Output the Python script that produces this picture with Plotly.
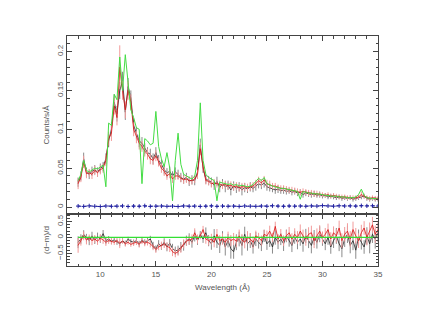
import plotly.graph_objects as go
from plotly.subplots import make_subplots

# wavelength bins (Angstrom), 0.25 A bins from 8 to 35
wave = [8.0 + 0.25 * i for i in range(109)]

# observed spectrum, instrument 1 (black)
dat_k = [0.032, 0.040, 0.062, 0.045, 0.042, 0.046, 0.048, 0.045, 0.050, 0.052,
         0.062, 0.085, 0.100, 0.135, 0.120, 0.150, 0.162, 0.122, 0.155, 0.140,
         0.105, 0.095, 0.085, 0.082, 0.075, 0.070, 0.068, 0.062, 0.070, 0.060,
         0.055, 0.048, 0.044, 0.046, 0.040, 0.045, 0.042, 0.038, 0.036, 0.038,
         0.033, 0.035, 0.034, 0.045, 0.080, 0.050, 0.036, 0.034, 0.032, 0.028,
         0.033, 0.025, 0.030, 0.026, 0.028, 0.022, 0.027, 0.024, 0.026, 0.022,
         0.025, 0.023, 0.026, 0.024, 0.027, 0.030, 0.028, 0.031, 0.026, 0.025,
         0.024, 0.022, 0.023, 0.021, 0.022, 0.020, 0.021, 0.019, 0.020, 0.018,
         0.019, 0.016, 0.018, 0.017, 0.016, 0.017, 0.015, 0.016, 0.014, 0.015,
         0.013, 0.014, 0.013, 0.012, 0.013, 0.011, 0.012, 0.011, 0.012, 0.010,
         0.011, 0.012, 0.013, 0.014, 0.011, 0.010, 0.011, 0.010, 0.010]
err_k = [0.006, 0.006, 0.008, 0.006, 0.006, 0.006, 0.006, 0.006, 0.006, 0.006,
         0.007, 0.008, 0.009, 0.010, 0.010, 0.011, 0.012, 0.010, 0.011, 0.010,
         0.009, 0.008, 0.008, 0.008, 0.007, 0.007, 0.007, 0.007, 0.007, 0.007,
         0.006, 0.006, 0.006, 0.006, 0.006, 0.006, 0.006, 0.006, 0.006, 0.006,
         0.006, 0.006, 0.006, 0.006, 0.008, 0.006, 0.006, 0.006, 0.006, 0.006,
         0.006, 0.006, 0.006, 0.007, 0.006, 0.007, 0.006, 0.006, 0.006, 0.007,
         0.006, 0.005, 0.006, 0.005, 0.006, 0.006, 0.005, 0.006, 0.005, 0.005,
         0.005, 0.005, 0.005, 0.004, 0.005, 0.004, 0.004, 0.004, 0.004, 0.004,
         0.004, 0.004, 0.004, 0.004, 0.004, 0.004, 0.003, 0.004, 0.003, 0.003,
         0.003, 0.003, 0.003, 0.003, 0.003, 0.003, 0.003, 0.003, 0.003, 0.003,
         0.003, 0.003, 0.003, 0.003, 0.003, 0.003, 0.003, 0.003, 0.003]

# observed spectrum, instrument 2 (red)
dat_r = [0.030, 0.038, 0.058, 0.043, 0.044, 0.042, 0.047, 0.044, 0.048, 0.050,
         0.060, 0.088, 0.095, 0.130, 0.115, 0.180, 0.150, 0.125, 0.150, 0.135,
         0.100, 0.090, 0.082, 0.078, 0.072, 0.068, 0.062, 0.060, 0.066, 0.058,
         0.050, 0.046, 0.040, 0.043, 0.036, 0.040, 0.040, 0.037, 0.035, 0.036,
         0.034, 0.034, 0.036, 0.042, 0.075, 0.052, 0.034, 0.033, 0.030, 0.031,
         0.030, 0.029, 0.028, 0.029, 0.027, 0.028, 0.026, 0.027, 0.025, 0.026,
         0.026, 0.025, 0.026, 0.027, 0.030, 0.034, 0.031, 0.035, 0.030, 0.029,
         0.027, 0.027, 0.025, 0.024, 0.024, 0.023, 0.022, 0.022, 0.021, 0.020,
         0.019, 0.020, 0.019, 0.018, 0.018, 0.017, 0.017, 0.016, 0.016, 0.015,
         0.016, 0.014, 0.015, 0.014, 0.013, 0.013, 0.013, 0.012, 0.012, 0.012,
         0.012, 0.013, 0.016, 0.014, 0.012, 0.011, 0.012, 0.011, 0.011]
err_r = [0.007, 0.006, 0.008, 0.006, 0.005, 0.006, 0.006, 0.005, 0.006, 0.006,
         0.007, 0.009, 0.010, 0.011, 0.010, 0.028, 0.012, 0.011, 0.012, 0.010,
         0.009, 0.008, 0.008, 0.007, 0.007, 0.007, 0.007, 0.006, 0.007, 0.006,
         0.006, 0.006, 0.005, 0.006, 0.005, 0.005, 0.005, 0.005, 0.005, 0.005,
         0.005, 0.005, 0.005, 0.006, 0.008, 0.006, 0.005, 0.005, 0.005, 0.005,
         0.005, 0.005, 0.005, 0.005, 0.005, 0.005, 0.005, 0.005, 0.005, 0.005,
         0.005, 0.005, 0.005, 0.005, 0.005, 0.005, 0.005, 0.005, 0.005, 0.005,
         0.004, 0.004, 0.004, 0.004, 0.004, 0.004, 0.004, 0.004, 0.004, 0.004,
         0.004, 0.004, 0.004, 0.004, 0.004, 0.004, 0.004, 0.003, 0.003, 0.003,
         0.003, 0.003, 0.003, 0.003, 0.003, 0.003, 0.003, 0.003, 0.003, 0.003,
         0.003, 0.003, 0.004, 0.003, 0.003, 0.003, 0.003, 0.003, 0.003]

# folded model (green)
model = [0.034, 0.042, 0.060, 0.047, 0.045, 0.048, 0.050, 0.049, 0.052, 0.054,
         0.026, 0.108, 0.105, 0.145, 0.138, 0.193, 0.150, 0.196, 0.160, 0.125,
         0.115, 0.102, 0.100, 0.030, 0.088, 0.085, 0.080, 0.082, 0.123, 0.078,
         0.062, 0.052, 0.070, 0.050, 0.008, 0.060, 0.095, 0.055, 0.042, 0.040,
         0.038, 0.036, 0.040, 0.060, 0.134, 0.060, 0.042, 0.038, 0.036, 0.034,
         0.008, 0.032, 0.031, 0.030, 0.029, 0.030, 0.028, 0.029, 0.027, 0.028,
         0.027, 0.026, 0.027, 0.029, 0.033, 0.037, 0.034, 0.038, 0.030, 0.028,
         0.027, 0.026, 0.025, 0.024, 0.024, 0.023, 0.022, 0.022, 0.021, 0.020,
         0.010, 0.020, 0.019, 0.018, 0.018, 0.017, 0.017, 0.016, 0.016, 0.015,
         0.015, 0.014, 0.014, 0.014, 0.013, 0.013, 0.013, 0.012, 0.012, 0.012,
         0.013, 0.016, 0.023, 0.015, 0.012, 0.011, 0.011, 0.011, 0.010]

# background (blue), 0.5 A bins
bkg = [0.0012, 0.0008, 0.0015, 0.0010, 0.0006, 0.0013, 0.0009, 0.0011, 0.0014, 0.0007,
       0.0012, 0.0010, 0.0016, 0.0008, 0.0011, 0.0013, 0.0009, 0.0012, 0.0007, 0.0014,
       0.0010, 0.0012, 0.0008, 0.0011, 0.0015, 0.0009, 0.0013, 0.0010, 0.0012, 0.0008,
       0.0014, 0.0011, 0.0009, 0.0013, 0.0010, 0.0016, 0.0012, 0.0009, 0.0014, 0.0011,
       0.0013, 0.0010, 0.0015, 0.0012, 0.0018, 0.0014, 0.0011, 0.0016, 0.0013, 0.0015,
       0.0012, 0.0017, 0.0014, 0.0016, 0.0013]

# residuals (d-m)/d
res_k = [-0.15, -0.05, 0.10, -0.02, -0.10, 0.05, -0.08, 0.02, -0.05, 0.12,
         -0.10, -0.05, -0.12, -0.08, -0.15, -0.20, -0.10, -0.18, -0.05, -0.12,
         -0.15, -0.10, -0.20, -0.08, -0.15, -0.10, -0.05, -0.25, -0.35, -0.20,
         -0.28, -0.15, -0.30, -0.18, -0.35, -0.42, -0.40, -0.30, -0.25, -0.10,
         -0.05, -0.15, 0.05, -0.10, 0.10, -0.05, 0.15, -0.10, -0.20, 0.05,
         -0.15, -0.25, 0.00, -0.30, -0.10, -0.35, -0.45, -0.15, -0.05, -0.25,
         0.10, -0.20, -0.10, -0.30, -0.05, -0.15, -0.25, 0.05, -0.20, -0.10,
         -0.30, 0.00, -0.15, -0.05, -0.20, 0.05, -0.10, -0.25, 0.00, -0.15,
         -0.05, -0.20, 0.05, -0.10, -0.25, 0.00, -0.15, 0.10, -0.05, -0.20,
         0.00, -0.30, -0.10, 0.05, -0.20, -0.35, -0.05, 0.10, -0.25, -0.10,
         -0.40, 0.00, -0.15, -0.30, 0.05, -0.20, 0.10, -0.05, 0.15]
res_r = [-0.25, -0.10, 0.05, -0.08, -0.02, -0.10, -0.05, -0.12, -0.02, -0.08,
         -0.15, -0.10, -0.12, -0.15, -0.10, -0.18, -0.12, -0.20, -0.15, -0.22,
         -0.18, -0.15, -0.22, -0.12, -0.18, -0.15, -0.20, -0.30, -0.38, -0.30,
         -0.25, -0.20, -0.28, -0.32, -0.45, -0.50, -0.45, -0.35, -0.20, -0.12,
         -0.08, -0.05, 0.15, -0.05, 0.05, 0.25, -0.05, -0.10, -0.05, -0.15,
         0.10, -0.10, -0.05, -0.15, 0.00, -0.10, -0.05, -0.12, 0.05, -0.08,
         -0.15, 0.00, -0.05, -0.15, 0.05, 0.00, -0.10, 0.10, 0.05, 0.20,
         0.00, 0.35, -0.05, 0.10, -0.10, 0.05, 0.15, -0.05, 0.10, 0.00,
         0.20, 0.05, -0.05, 0.10, 0.15, -0.10, 0.05, 0.20, 0.00, 0.10,
         0.25, -0.05, 0.15, 0.05, 0.30, -0.10, 0.10, 0.20, -0.05, 0.25,
         0.05, -0.10, 0.15, 0.30, 0.00, 0.20, 0.40, 0.10, 0.25]
res_zero = [0.0, 0.0]

y_title_top = "Counts/s/Å"
y_title_bot = "(d−m)/d"
x_title = "Wavelength (Å)"

rerr_k = [e / d for e, d in zip(err_k, dat_k)]
rerr_r = [e / d for e, d in zip(err_r, dat_r)]
bkg_wave = wave[::2]

fig = make_subplots(rows=2, cols=1, shared_xaxes=True, vertical_spacing=0,
                    row_heights=[0.774, 0.226])

def data_trace(x, y, err, mcol, ecol):
    return go.Scatter(x=x, y=y, mode="lines",
                      line=dict(color=mcol, width=0.8),
                      error_y=dict(type="data", array=err, color=ecol, thickness=1, width=0),
                      showlegend=False, hoverinfo="skip")

fig.add_trace(data_trace(wave, dat_k, err_k, "#222222", "#8a8a8a"), row=1, col=1)
fig.add_trace(data_trace(wave, dat_r, err_r, "#d81010", "#f29a9a"), row=1, col=1)
fig.add_trace(go.Scatter(x=wave, y=model, mode="lines",
                         line=dict(color="#44dd44", width=1), showlegend=False), row=1, col=1)
fig.add_trace(go.Scatter(x=bkg_wave, y=bkg, mode="lines+markers",
                         line=dict(color="#2020a0", width=1, dash="dot"),
                         marker=dict(symbol="cross-thin", size=3, color="#2020a0",
                                     line=dict(width=1, color="#2020a0")),
                         showlegend=False), row=1, col=1)

fig.add_trace(data_trace(wave, res_k, rerr_k, "#222222", "#8a8a8a"), row=2, col=1)
fig.add_trace(data_trace(wave, res_r, rerr_r, "#d81010", "#f29a9a"), row=2, col=1)
fig.add_trace(go.Scatter(x=[wave[0], wave[-1]], y=res_zero, mode="lines",
                         line=dict(color="#33e033", width=1.3), showlegend=False), row=2, col=1)

axcol = "#444444"
font = dict(family="Liberation Sans, Arial, sans-serif", size=8, color="#555555")
common = dict(showline=True, linecolor=axcol, linewidth=1, mirror="ticks",
              ticks="inside", tickcolor=axcol, ticklen=5, showgrid=False, zeroline=False,
              tickfont=font)

fig.update_xaxes(range=[7, 35], tick0=0, dtick=5,
                 minor=dict(ticks="inside", ticklen=2.5, dtick=1, tickcolor=axcol, showgrid=False),
                 **common)
fig.update_xaxes(showticklabels=False, row=1, col=1)
fig.update_xaxes(title=dict(text=x_title, font=font, standoff=6), row=2, col=1)

fig.update_yaxes(range=[-0.009, 0.22], tick0=0, dtick=0.05, tickangle=-90,
                 minor=dict(ticks="inside", ticklen=2.5, dtick=0.01, tickcolor=axcol, showgrid=False),
                 title=dict(text=y_title_top, font=font, standoff=4),
                 row=1, col=1, **common)
fig.update_yaxes(range=[-0.9, 0.74], tickvals=[-0.5, 0, 0.5], tickangle=-90,
                 minor=dict(ticks="inside", ticklen=2.5, dtick=0.1, tickcolor=axcol, showgrid=False),
                 title=dict(text=y_title_bot, font=font, standoff=4),
                 row=2, col=1, **common)

fig.update_layout(width=424, height=327, margin=dict(l=67, r=46, t=36, b=61),
                  paper_bgcolor="white", plot_bgcolor="white", font=font)

fig.write_html("out.html", config={"displayModeBar": False},
               post_script="document.body.style.margin='0';")
